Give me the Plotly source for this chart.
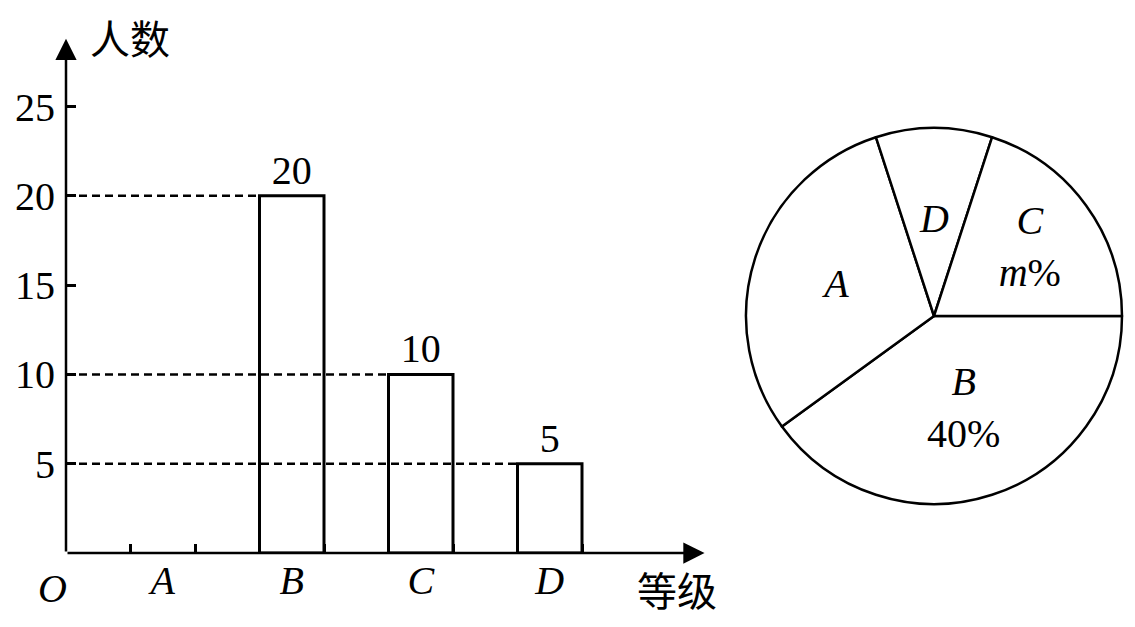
import math
import plotly.graph_objects as go

# ---- data ----
grades = ["A", "B", "C", "D"]
grade_pos = [0, 1, 2, 3]
counts = [None, 20, 10, 5]          # A unknown in the bar chart
y_ticks = [5, 10, 15, 20, 25]

pie_labels = ["B", "A", "D", "C"]   # clockwise from 3 o'clock
pie_values = [20, 15, 5, 10]
pie_extra = ["40%", "", "", "<i>m</i>%"]

BAR_W = 0.5
X_MIN, X_MAX = -0.75, 4.3
Y_MAX = 30
SERIF = "Liberation Serif"
CJK = "Noto Sans CJK SC"

OFF = 8                      # body margin of the html page
W, H = 1135 - 2 * OFF, 627 - 2 * OFF

PIE_CX, PIE_CY, PIE_R = 934, 316, 188     # pie layout (window pixels)
MANUAL_LABEL = "D"                        # narrow slice: label placed by hand
MANUAL_RFRAC = 0.52


def px(x):   # window pixel x -> paper fraction
    return (x - OFF) / W


def py(y):   # window pixel y -> paper fraction
    return (H - (y - OFF)) / H


fig = go.Figure()

fig.add_trace(go.Bar(
    x=grade_pos, y=counts, width=BAR_W,
    marker=dict(color="white", line=dict(color="black", width=3)),
    text=[("" if v is None else str(v)) for v in counts],
    textposition="outside", cliponaxis=False,
    textfont=dict(family=SERIF, size=40, color="black"),
    showlegend=False, hoverinfo="skip",
))

# dashed guide lines from y-axis to bar left edges
shapes = []
for xp, v in zip(grade_pos, counts):
    if v is None:
        continue
    shapes.append(dict(type="line", xref="x", yref="y",
                       x0=X_MIN, x1=xp - BAR_W / 2, y0=v, y1=v,
                       line=dict(color="black", width=2.5, dash="8px,5px")))

pie_text = []
for lab, ex in zip(pie_labels, pie_extra):
    t = "<i>%s</i>" % lab
    if ex:
        t += "<br>" + ex
    pie_text.append(t)

fig.add_trace(go.Pie(
    labels=pie_labels, values=pie_values, text=pie_text,
    texttemplate="%{text}",
    textposition=["none" if l == MANUAL_LABEL else "inside" for l in pie_labels],
    insidetextorientation="horizontal",
    sort=False, direction="clockwise", rotation=90,
    marker=dict(colors=["white"] * 4, line=dict(color="black", width=2.5)),
    textfont=dict(family=SERIF, size=40, color="black"),
    domain=dict(x=[px(PIE_CX - PIE_R), px(PIE_CX + PIE_R)],
                y=[py(PIE_CY + PIE_R), py(PIE_CY - PIE_R)]),
    showlegend=False, hoverinfo="skip",
))

annotations = [
    # axes with arrows
    dict(x=X_MIN, y=28.8, ax=X_MIN, ay=0, xref="x", yref="y", axref="x", ayref="y",
         text="", showarrow=True, arrowhead=2, arrowsize=1.7, arrowwidth=2.5,
         arrowcolor="black", standoff=0),
    dict(x=4.2, y=0, ax=X_MIN, ay=0, xref="x", yref="y", axref="x", ayref="y",
         text="", showarrow=True, arrowhead=2, arrowsize=1.7, arrowwidth=2.5,
         arrowcolor="black", standoff=0),
    dict(x=px(88), y=py(37), xref="paper", yref="paper", xanchor="left",
         yanchor="middle", text="人数", showarrow=False,
         font=dict(family=CJK, size=40, color="black")),
    dict(x=px(635), y=py(589), xref="paper", yref="paper", xanchor="left",
         yanchor="middle", text="等级", showarrow=False,
         font=dict(family=CJK, size=40, color="black")),
    dict(x=px(52), y=py(588), xref="paper", yref="paper", xanchor="center",
         yanchor="middle", text="<i>O</i>", showarrow=False,
         font=dict(family=SERIF, size=40, color="black")),
]

# label for the narrow slice, at its bisector (clockwise from 3 o'clock)
total = sum(pie_values)
cum = 0
for lab, v in zip(pie_labels, pie_values):
    if lab == MANUAL_LABEL:
        mid = (cum + v / 2) / total * 2 * math.pi
        r = PIE_R * MANUAL_RFRAC
        annotations.append(dict(
            x=px(PIE_CX + r * math.cos(mid)), y=py(PIE_CY + r * math.sin(mid)),
            xref="paper", yref="paper", xanchor="center", yanchor="middle",
            text="<i>%s</i>" % lab, showarrow=False,
            font=dict(family=SERIF, size=40, color="black")))
    cum += v

x_span = (X_MAX - X_MIN) * 129
fig.update_layout(
    width=W, height=H, margin=dict(l=0, r=0, t=0, b=0),
    paper_bgcolor="white", plot_bgcolor="white",
    shapes=shapes, annotations=annotations,
    uniformtext=dict(minsize=40, mode="show"),
    xaxis=dict(domain=[px(66), px(66 + x_span)], range=[X_MIN, X_MAX],
               showgrid=False, zeroline=False, showline=False,
               tickmode="array", tickvals=grade_pos,
               ticktext=["<i>%s</i>" % g for g in grades],
               ticks="", tickfont=dict(family=SERIF, size=40, color="black"),
               ticklabelstandoff=0,
               minor=dict(tickmode="array",
                          tickvals=[p + s * BAR_W / 2 for p in grade_pos for s in (-1, 1)],
                          ticks="inside", ticklen=9, tickwidth=2.5, tickcolor="black")),
    yaxis=dict(domain=[py(553), py(553 - Y_MAX * 17.86)], range=[0, Y_MAX],
               showgrid=False, zeroline=False, showline=False,
               tickmode="array", tickvals=y_ticks,
               ticks="inside", ticklen=10, tickwidth=2.5, tickcolor="black",
               ticklabelstandoff=10,
               tickfont=dict(family=SERIF, size=40, color="black")),
)

fig.write_html("out.html")
